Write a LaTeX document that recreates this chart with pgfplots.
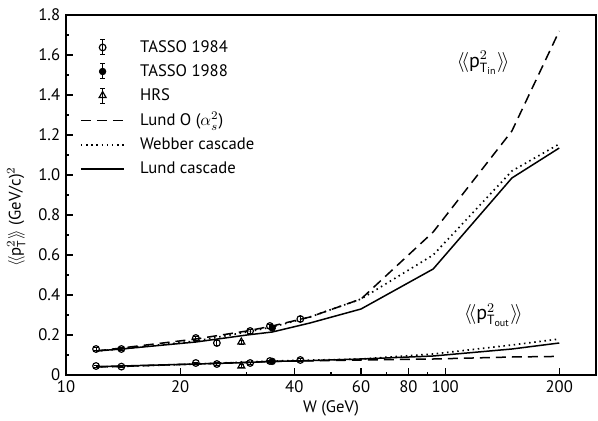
\documentclass[border=0pt]{standalone}
\usepackage{pgfplots}
\pgfplotsset{compat=1.18}
\usepackage{amsmath}
\usepackage{fontspec}
\setmainfont{PT Sans}
\pgfplotsset{
  linelegend/.style={legend image code/.code={\draw[##1] (0pt,0pt) -- (26pt,0pt);}},
  marklegend/.style={legend image code/.code={%
     \draw[black,line width=0.6pt] (13pt,-4.5pt)--(13pt,4.5pt) (11.5pt,4.5pt)--(14.5pt,4.5pt) (11.5pt,-4.5pt)--(14.5pt,-4.5pt);
     \draw[##1] plot coordinates {(13pt,0pt)};}},
}
\begin{document}
\begin{tikzpicture}
\begin{axis}[
  scale only axis,
  width=318pt, height=216pt,
  xmode=log,
  xmin=10, xmax=250,
  ymin=0, ymax=1.8,
  xtick={10,20,40,60,80,100,200},
  xticklabels={10,20,40,60,80,100,200},
  minor xtick={30,50,70,90},
  ytick={0,0.2,0.4,0.6,0.8,1.0,1.2,1.4,1.6,1.8},
  yticklabels={0,0.2,0.4,0.6,0.8,1.0,1.2,1.4,1.6,1.8},
  minor ytick={0.1,0.3,0.5,0.7,0.9,1.1,1.3,1.5,1.7},
  tick align=inside,
  major tick length=4pt, minor tick length=2pt,
  xtick pos=bottom, ytick pos=left,
  tick style={black, line width=0.7pt},
  axis line style={line width=0.9pt},
  /pgf/number format/assume math mode=true,
  tick label style={font=\fontsize{10}{12}\selectfont},
  xlabel={W (GeV)},
  ylabel={$\langle\!\langle \text{p}^{2}_{\text{T}}\rangle\!\rangle$ (GeV/c)$^{2}$},
  label style={font=\fontsize{10}{12}\selectfont},
  ylabel style={at={(axis description cs:-0.094,0.44)}, anchor=center},
  xlabel style={yshift=2pt},
  legend style={draw=none, fill=none, at={(axis description cs:0.026,0.94)}, anchor=north west,
    font=\fontsize{10}{12}\selectfont, row sep=1.8pt, inner sep=0pt,
    /tikz/every odd column/.append style={column sep=7pt}},
  legend cell align=left,
]
% TASSO 1984
\addplot[only marks, mark=o, mark size=2pt, black, line width=0.7pt, marklegend,
  error bars/.cd, y dir=both, y explicit,
  error bar style={line width=0.6pt}, error mark options={rotate=90, mark size=1.5pt, line width=0.6pt}]
  coordinates {
  (12,0.13) +- (0,0.008)
  (14,0.13) +- (0,0.008)
  (22,0.185) +- (0,0.01)
  (25,0.16) +- (0,0.012)
  (30.6,0.22) +- (0,0.01)
  (34.5,0.245) +- (0,0.01)
  (41.5,0.28) +- (0,0.012)
  (12,0.045) +- (0,0.005)
  (14,0.042) +- (0,0.005)
  (22,0.06) +- (0,0.005)
  (25,0.055) +- (0,0.006)
  (30.6,0.06) +- (0,0.005)
  (34.5,0.07) +- (0,0.005)
  (41.5,0.075) +- (0,0.006)
  };
\addlegendentry{TASSO 1984}
% TASSO 1988
\addplot[only marks, mark=*, mark size=2pt, black, marklegend,
  error bars/.cd, y dir=both, y explicit,
  error bar style={line width=0.6pt}, error mark options={rotate=90, mark size=1.5pt, line width=0.6pt}]
  coordinates {
  (35,0.235) +- (0,0.008)
  (35,0.068) +- (0,0.004)
  };
\addlegendentry{TASSO 1988}
% HRS
\addplot[only marks, mark=triangle, mark size=2.4pt, black, line width=0.7pt, marklegend,
  error bars/.cd, y dir=both, y explicit,
  error bar style={line width=0.6pt}, error mark options={rotate=90, mark size=1.5pt, line width=0.6pt}]
  coordinates {
  (29,0.165) +- (0,0.01)
  (29,0.045) +- (0,0.006)
  };
\addlegendentry{HRS}
% Lund O(alpha_s^2) dashed
\addplot[black, line width=0.9pt, dash pattern=on 6pt off 3.6pt, no marks, linelegend]
  coordinates {
  (12,0.12) (14,0.135) (22,0.18) (30,0.22) (35,0.245) (44,0.29) (60,0.38) (93,0.715) (150,1.22) (200,1.72)
  };
\addlegendentry{Lund O ($\alpha_{s}^{2}$)}
% Webber cascade dotted
\addplot[black, line width=1pt, dash pattern=on 0.9pt off 2.2pt, no marks, linelegend]
  coordinates {
  (12,0.12) (14,0.13) (22,0.17) (30,0.215) (35,0.24) (44,0.29) (60,0.38) (93,0.60) (150,1.02) (200,1.155)
  };
\addlegendentry{Webber cascade}
% Lund cascade solid
\addplot[black, line width=0.9pt, no marks, linelegend]
  coordinates {
  (12,0.12) (14,0.13) (22,0.165) (30,0.20) (35,0.215) (44,0.26) (60,0.33) (93,0.53) (150,0.985) (200,1.135)
  };
\addlegendentry{Lund cascade}
% lower curves
\addplot[black, line width=0.9pt, dash pattern=on 6pt off 3.6pt, no marks, forget plot]
  coordinates {
  (12,0.04) (14,0.043) (22,0.055) (35,0.068) (60,0.075) (93,0.08) (150,0.09) (200,0.093)
  };
\addplot[black, line width=1pt, dash pattern=on 0.9pt off 2.2pt, no marks, forget plot]
  coordinates {
  (12,0.04) (14,0.043) (22,0.055) (35,0.07) (60,0.08) (93,0.105) (150,0.15) (200,0.18)
  };
\addplot[black, line width=0.9pt, no marks, forget plot]
  coordinates {
  (12,0.042) (14,0.045) (22,0.055) (30,0.062) (35,0.068) (44,0.072) (60,0.08) (93,0.095) (150,0.13) (200,0.16)
  };
\node[font=\fontsize{12}{14}\selectfont] at (axis cs:126,1.56) {$\langle\!\langle \text{p}^{2}_{\text{T}_{\text{in}}}\rangle\!\rangle$};
\node[font=\fontsize{12}{14}\selectfont] at (axis cs:134,0.30) {$\langle\!\langle \text{p}^{2}_{\text{T}_{\text{out}}}\rangle\!\rangle$};
\end{axis}
\pgfresetboundingbox
\path[use as bounding box] ([xshift=-39.6pt,yshift=-27pt]current axis.south west) rectangle ([xshift=1.2pt,yshift=9pt]current axis.north east);
\end{tikzpicture}
\end{document}
